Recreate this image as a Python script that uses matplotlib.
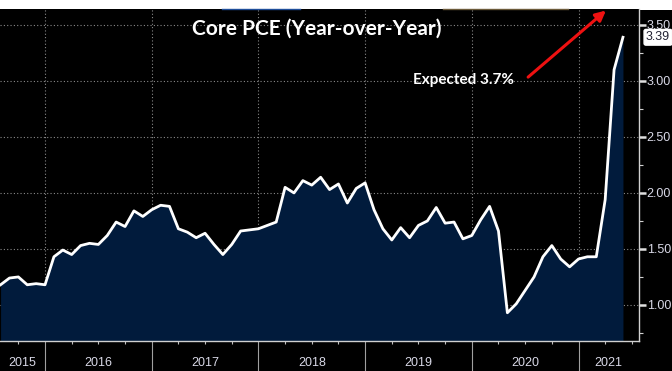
import matplotlib
matplotlib.use("Agg")
import matplotlib.pyplot as plt
import matplotlib.transforms as mtransforms
from matplotlib.lines import Line2D

# monthly core PCE y/y, Aug 2015 .. Jun 2021
start_year = 2015
start_month = 8
values = [
    1.18, 1.24, 1.25, 1.18, 1.19,
    1.18, 1.43, 1.49, 1.45, 1.53, 1.55, 1.54, 1.62, 1.74, 1.70, 1.84, 1.79,
    1.85, 1.89, 1.88, 1.68, 1.65, 1.60, 1.64, 1.54, 1.45, 1.54, 1.66, 1.67,
    1.68, 1.71, 1.74, 2.05, 2.00, 2.11, 2.07, 2.14, 2.03, 2.08, 1.91, 2.04,
    2.09, 1.85, 1.68, 1.58, 1.69, 1.60, 1.71, 1.75, 1.87, 1.73, 1.74, 1.59,
    1.62, 1.76, 1.88, 1.66, 0.93, 1.01, 1.13, 1.25, 1.43, 1.53, 1.41, 1.34,
    1.41, 1.43, 1.43, 1.94, 3.10, 3.39,
]
years = [2015, 2016, 2017, 2018, 2019, 2020, 2021]
y_ticks = [1.0, 1.5, 2.0, 2.5, 3.0, 3.5]
title = "Core PCE (Year-over-Year)"
note = "Expected 3.7%"

axis_font = "Liberation Sans"

t = [start_year + (start_month - 1 + i) / 12 for i in range(len(values))]
xmin, xmax = 2015.578, 2021.567
ymin, ymax = 0.678, 3.638

fig = plt.figure(figsize=(6.72, 3.71), dpi=100, facecolor="black")
fig.patches.append(plt.Rectangle((0, 0.974), 1, 0.03, transform=fig.transFigure,
                                 facecolor="white", edgecolor="none", zorder=-1))
# bits of a cropped legend at the top
fig.lines.append(Line2D([222 / 672, 300 / 672], [0.976, 0.976], transform=fig.transFigure,
                        color="#1f4e9a", lw=1))
fig.lines.append(Line2D([443 / 672, 568 / 672], [0.976, 0.976], transform=fig.transFigure,
                        color="#6b5a3a", lw=1))

ax = fig.add_axes([0, 0.0809, 639 / 672, 0.8935])
ax.set_facecolor("black")

ax.fill_between(t, values, ymin, color="#011b3c", lw=0)
ax.plot(t, values, color="white", lw=2)
ax.set_xlim(xmin, xmax)
ax.set_ylim(ymin, ymax)

# grid
for v in y_ticks:
    ax.axhline(v, color="#8a8a8a", lw=0.8, ls=(0, (1, 2)), zorder=0.5)
for y in years[1:]:
    ax.axvline(y, color="#8a8a8a", lw=0.8, ls=(0, (1, 2)), zorder=0.5)

for s in ["top", "left"]:
    ax.spines[s].set_visible(False)
for s in ["bottom", "right"]:
    ax.spines[s].set_color("#d0d0d0")
    ax.spines[s].set_linewidth(1)

# right axis
ax.yaxis.tick_right()
ax.set_yticks(y_ticks)
ax.set_yticklabels([f"{v:.2f}" for v in y_ticks])
ax.set_yticks([0.75, 1.25, 1.75, 2.25, 2.75, 3.25], minor=True)
ax.tick_params(axis="y", which="major", length=5, width=1.8, color="#e0e0e0",
               labelcolor="#d8d8e6", labelsize=9, pad=0.5)
ax.tick_params(axis="y", which="minor", length=3, width=0.8, color="#d0d0d0")
for lab in ax.get_yticklabels():
    lab.set_family(axis_font)

# bottom axis: year dividers + quarter ticks
ax.set_xticks(years[1:])
ax.set_xticklabels([])
quarters = [y + q / 4 for y in range(2015, 2022) for q in range(4)]
ax.set_xticks([q for q in quarters if xmin < q < xmax and q % 1 != 0], minor=True)
ax.tick_params(axis="x", which="major", length=22, width=0.8, color="#a0a0a0")
ax.tick_params(axis="x", which="minor", length=2.5, width=0.8, color="#c0c0c0")

trans = mtransforms.blended_transform_factory(ax.transData, ax.transAxes)
for y in years:
    mid = (max(y, xmin) + min(y + 1, xmax)) / 2
    ax.text(mid, -0.066, str(y), transform=trans, ha="center", va="center",
            color="#d8d8e6", fontsize=9, family=axis_font)

# last value box
ax.annotate(f"{values[-1]:.2f}", xy=(1.0, values[-1]), xycoords=("axes fraction", "data"),
            xytext=(5, 0), textcoords="offset points", ha="left", va="center",
            fontsize=9, color="#222233", family=axis_font, annotation_clip=False,
            bbox=dict(boxstyle="round,pad=0.15", fc="white", ec="white"))

ax.text(0.496, 0.941, title, transform=ax.transAxes, ha="center", va="center",
        color="white", fontsize=15, family="Lato", weight="bold")
ax.text(2019.918, 3.009, note, ha="center", va="center", color="white",
        fontsize=11, family="Lato", weight="bold")
ax.annotate("", xy=(2021.277, 3.645), xytext=(2020.508, 3.018),
            arrowprops=dict(arrowstyle="-|>,head_length=0.6,head_width=0.3",
                            color="#ee1111", lw=2.2), annotation_clip=False)

fig.savefig("out.png", dpi=100, facecolor=fig.get_facecolor())
